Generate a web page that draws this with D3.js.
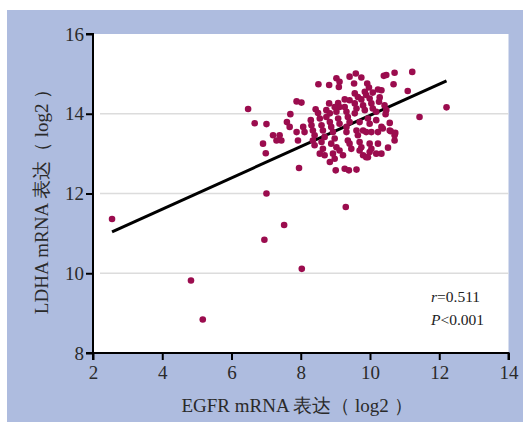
<!DOCTYPE html>
<html><head><meta charset="utf-8">
<script src="https://cdn.jsdelivr.net/npm/d3@7/dist/d3.min.js"></script>
<style>body{margin:0;background:#fff}svg{display:block}</style>
</head><body>
<script>
const egfr = [2.55,4.83,5.17,7.01,6.95,9.30,7.52,8.03,7.95,12.21,11.43,11.22,11.09,6.48,
9.59,9.41,9.03,9.75,10.40,10.47,10.71,8.51,8.82,9.12,9.10,9.54,9.92,9.97,10.68,10.23,
10.08,9.85,9.89,9.56,9.65,10.28,10.26,9.99,10.04,9.75,9.27,9.41,9.08,9.12,8.82,7.88,
8.02,8.43,8.50,8.74,8.84,8.98,9.03,9.27,9.32,9.56,9.61,9.80,9.85,10.08,10.18,10.42,
10.47,7.70,7.60,7.68,7.01,8.29,8.31,8.55,8.60,8.74,8.84,8.88,9.08,9.12,9.36,9.41,
9.32,9.56,9.70,9.94,9.99,10.18,10.57,10.37,10.60,7.39,7.44,7.20,7.30,7.88,7.92,8.07,
8.11,8.35,8.40,8.64,8.69,8.93,8.98,8.88,9.32,9.36,9.61,9.65,9.80,9.89,10.04,10.23,
10.71,10.71,6.91,6.99,8.35,8.40,8.60,8.64,9.03,9.12,9.41,9.46,9.70,9.75,9.99,10.04,
10.23,10.52,8.69,8.55,8.93,8.98,9.22,9.70,9.80,9.89,9.99,9.94,10.18,10.33,9.01,9.27,
9.39,9.61,8.84,10.33,10.45,10.57,10.73,10.33,6.67];
const ldha = [11.36,9.82,8.84,12.00,10.84,11.66,11.21,10.11,12.64,14.16,13.92,15.05,14.57,14.12,
15.01,14.93,14.89,14.91,14.95,14.97,15.03,14.74,14.72,14.80,14.67,14.76,14.76,14.66,14.74,14.61,
14.53,14.55,14.47,14.51,14.42,14.41,14.30,14.38,14.26,14.36,14.36,14.34,14.27,14.17,14.26,14.31,
14.28,14.11,14.02,14.09,14.01,14.17,14.05,14.17,14.05,14.26,14.13,14.21,14.09,14.13,14.05,14.21,
14.09,13.99,13.79,13.67,13.74,13.84,13.71,13.88,13.71,13.92,13.79,13.67,13.88,13.75,13.92,13.79,
13.67,14.01,13.79,13.88,13.75,13.84,13.77,13.63,13.56,13.46,13.33,13.46,13.33,13.54,13.33,13.67,
13.54,13.58,13.46,13.58,13.42,13.54,13.38,13.25,13.54,13.33,13.58,13.46,13.58,13.54,13.54,13.54,
13.46,13.33,13.25,13.01,13.33,13.21,13.29,13.12,13.16,13.08,13.25,13.12,13.29,13.16,13.25,13.12,
13.25,13.15,12.96,13.00,13.00,12.87,12.96,13.08,12.96,12.91,13.04,12.91,13.00,13.00,12.58,12.62,
12.58,12.60,12.79,14.59,13.99,13.58,13.52,13.67,13.76];
const xTicks = [2,4,6,8,10,12,14];
const yTicks = [8,10,12,14,16];
const gridValues = [10,12,14];
const fitSlope = 0.392, fitIntercept = 10.04;
const stats = [{it:"r", rest:"=0.511"},{it:"P", rest:"<0.001"}];

const W=523,H=422;
const svg=d3.select("body").append("svg").attr("width",W).attr("height",H);
svg.append("rect").attr("x",7).attr("y",10).attr("width",W-7).attr("height",H-10).attr("fill","#aebcdf");
const x=d3.scaleLinear().domain([2,14]).range([93,508.5]);
const y=d3.scaleLinear().domain([8,16]).range([353,34]);
svg.append("rect").attr("x",x(2)).attr("y",y(16)).attr("width",x(14)-x(2)).attr("height",y(8)-y(16)).attr("fill","#fff");
svg.selectAll("line.grid").data(gridValues).enter().append("line").attr("class","grid")
 .attr("x1",x(2)+7).attr("x2",x(14)).attr("y1",d=>y(d)).attr("y2",d=>y(d))
 .attr("stroke","#dcdcdc").attr("stroke-width",1.5);

const font="'Liberation Serif','Times New Roman',serif";
const gx=svg.append("g").attr("transform",`translate(0,${y(8)})`)
 .call(d3.axisBottom(x).tickValues(xTicks).tickSize(7).tickPadding(6));
const gy=svg.append("g").attr("transform",`translate(${x(2)},0)`)
 .call(d3.axisLeft(y).tickValues(yTicks).tickSize(7).tickPadding(2));
[gx,gy].forEach(g=>{
 g.select(".domain").attr("stroke","#000").attr("stroke-width",2);
 g.selectAll(".tick line").attr("stroke","#000").attr("stroke-width",2);
 g.selectAll(".tick text").attr("font-family",font).attr("font-size",19).attr("fill","#2a2a2a");
});
gx.select(".domain").attr("d",`M${x(2)},7V0H${x(14)}V7`);
gy.select(".domain").attr("d",`M-7,${y(16)}H0V${y(8)}H-7`);

const xmin=d3.min(egfr), xmax=d3.max(egfr);
svg.append("line").attr("x1",x(xmin)).attr("x2",x(xmax))
 .attr("y1",y(fitIntercept+fitSlope*xmin)).attr("y2",y(fitIntercept+fitSlope*xmax))
 .attr("stroke","#000").attr("stroke-width",3);

svg.selectAll("circle.pt").data(egfr.map((v,i)=>[v,ldha[i]])).enter().append("circle")
 .attr("class","pt").attr("cx",d=>x(d[0])).attr("cy",d=>y(d[1])).attr("r",3.3).attr("fill","#9b0c4e");

const st=svg.append("g");
stats.forEach((s,i)=>{
 const t=st.append("text").attr("x",431).attr("y",302+i*23).attr("font-family",font).attr("font-size",15.5).attr("fill","#222");
 t.append("tspan").attr("font-style","italic").text(s.it);
 t.append("tspan").text(s.rest);
});

svg.append("text").attr("x",297).attr("y",412).attr("text-anchor","middle").attr("font-family",font)
 .attr("font-size",19).attr("fill","#2a2a2a").attr("xml:space","preserve").style("white-space","pre").text("EGFR mRNA 表达（ log2 ）");
svg.append("text").attr("transform","translate(48,197) rotate(-90)").attr("text-anchor","middle").attr("font-family",font)
 .attr("font-size",19).attr("fill","#2a2a2a").style("white-space","pre").text("LDHA mRNA 表达（ log2 ）");
</script>
</body></html>
